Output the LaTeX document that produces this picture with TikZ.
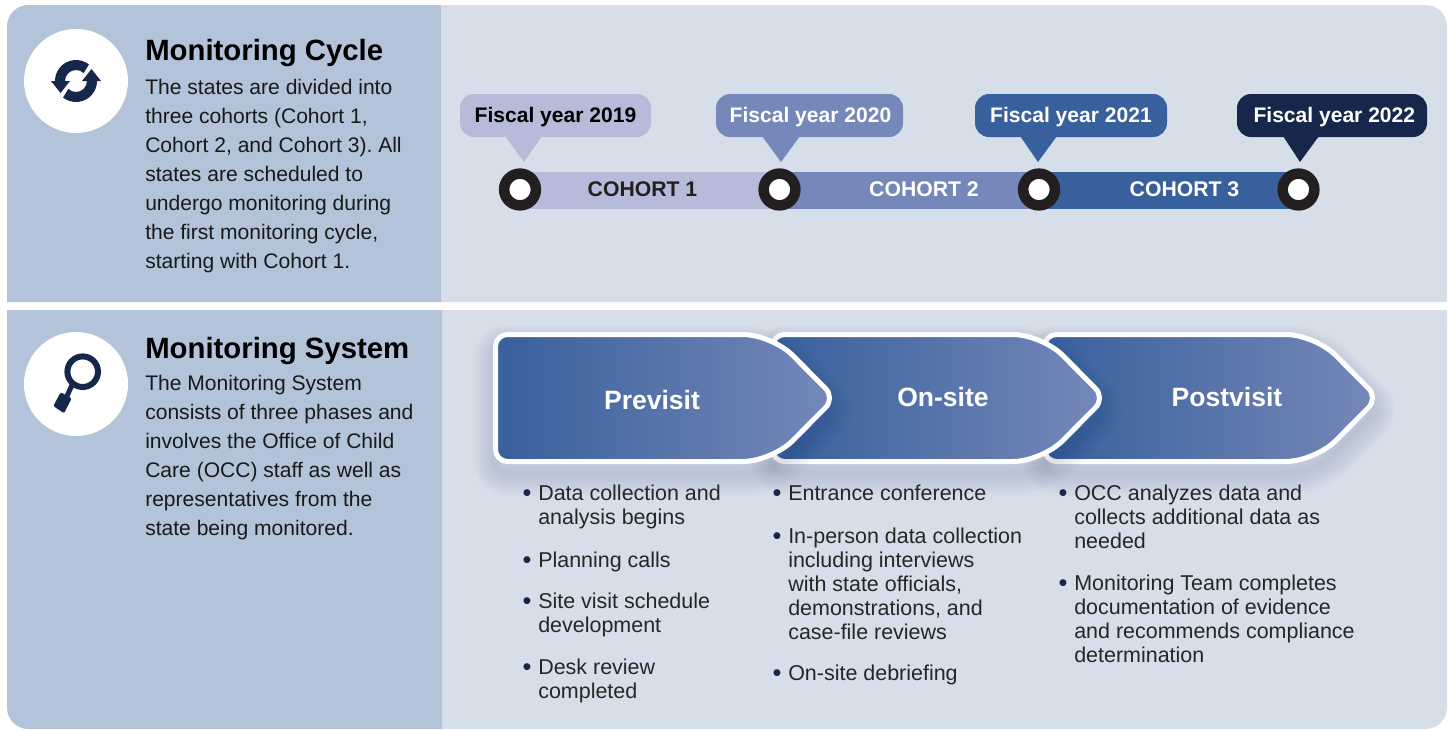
\documentclass[tikz,border=0pt]{standalone}
\usepackage{fontspec}
\setmainfont{Liberation Sans}
\frenchspacing
\definecolor{panelL}{HTML}{B3C3DA}
\definecolor{panelR}{HTML}{D6DEE9}
\definecolor{navy}{HTML}{17274C}
\definecolor{cA}{HTML}{B6BBDA}
\definecolor{cB}{HTML}{7688B9}
\definecolor{cC}{HTML}{38609C}
\definecolor{ringc}{HTML}{231F20}
\newcommand{\chevpath}[2]{% left x, sharp tip x
  (#1,398) [rounded corners=9pt] -- (#1,334.5) [rounded corners=22pt] -- (#2-63,334.5) [rounded corners=10pt] -- (#2,398) [rounded corners=22pt] -- (#2-63,461.5) [rounded corners=9pt] -- (#1,461.5) [sharp corners] -- cycle}
\newcommand{\chevron}[2]{%
  \foreach \w in {44,40,...,4}{
    \begin{scope}[yshift=-9pt]
    \draw[navy,draw opacity=0.011,line width=\w*0.75pt,line join=round] \chevpath{#1}{#2};
    \end{scope}
  }
  \path[chev] \chevpath{#1}{#2};
}
\newcommand{\bul}{\llap{\raisebox{-0.8pt}{\fontsize{19}{18}\selectfont\textcolor{navy}{•}}\hspace{5pt}}}
\tikzset{
  body/.style={anchor=north west,inner sep=0pt,align=left,text=black!90,font=\fontsize{15.8}{21.75}\selectfont},
  item/.style={anchor=north west,inner sep=0pt,align=left,text=black!85,font=\fontsize{16.1}{18}\selectfont},
  head/.style={anchor=base west,inner sep=0pt,font=\fontsize{22}{25}\selectfont\bfseries},
  chev/.style={left color=cC,right color=cB,draw=white,line width=3.75pt,line join=round},
  chevlabel/.style={text=white,inner sep=0pt,font=\fontsize{19.9}{24}\selectfont\bfseries},
  fy/.style={rounded corners=10.5pt,minimum width=#1*0.75pt,minimum height=32.25pt,inner sep=0pt,text height=12pt,text depth=1.4pt,font=\fontsize{15.8}{18}\selectfont\bfseries},
  bar/.style={line width=27.75pt},
  stop/.style={circle,fill=white,draw=ringc,line width=7.9pt,minimum size=23.8pt,inner sep=0pt},
  cohort/.style={inner sep=0pt,font=\fontsize{15.9}{18}\selectfont\bfseries},
  disc/.style={circle,fill=white,minimum size=78pt,inner sep=0pt},
}
\begin{document}
\begin{tikzpicture}[x=0.75pt,y=-0.75pt]
\useasboundingbox (0,0) rectangle (1450,729);
\fill[white] (0,0) rectangle (1450,729);
% panels
\fill[panelL] (441,5) [rounded corners=16pt] -- (7,5) [sharp corners] -- (7,302) -- (441,302) -- cycle;
\fill[panelR] (441,5) [rounded corners=16pt] -- (1447,5) [sharp corners] -- (1447,302) -- (441,302) -- cycle;
\fill[panelL] (442,310) -- (7,310) [rounded corners=16pt] -- (7,729) [sharp corners] -- (442,729) -- cycle;
\fill[panelR] (442,310) -- (1447,310) [rounded corners=16pt] -- (1447,729) [sharp corners] -- (442,729) -- cycle;
% icons
\node[disc] (d1) at (76,81) {};
\node[disc] (d2) at (76,384) {};
% refresh icon
\begin{scope}[shift={(76,81)},yscale=-1]
  \foreach \a in {0,180}{
    \begin{scope}[rotate=\a]
      \fill[navy] (52:21) arc[start angle=52,end angle=180,radius=21] -- (-25,0) -- (-15.5,-12) -- (-6,0) -- (-11,0) arc[start angle=180,end angle=46,radius=11] -- cycle;
    \end{scope}
  }
\end{scope}
% magnifier
\draw[navy,line width=4.5pt] (82.7,371.7) circle[radius=15.3];
\draw[navy,line width=3.75pt] (72.5,384) -- (67,396);
\fill[navy,rounded corners=1pt] (60.7,392.3) -- (71.7,398.3) -- (64,413.3) -- (53.3,406) -- cycle;
% headings and body
\node[head] (h1) at (145,60) {Monitoring Cycle};
\node[body] (b1) at (145,73.7) {\strut The states are divided into\\three cohorts (Cohort 1,\\Cohort 2, and Cohort 3). All\\states are scheduled to\\undergo monitoring during\\the first monitoring cycle,\\starting with Cohort 1.};
\node[head] (h2) at (145,358.5) {Monitoring System};
\node[body] (b2) at (145,369.7) {\strut The Monitoring System\\consists of three phases and\\involves the Office of Child\\Care (OCC) staff as well as\\representatives from the\\state being monitored.};
% timeline
\coordinate (t1) at (520,189.5);
\coordinate (t2) at (779.5,189.5);
\coordinate (t3) at (1039,189.5);
\coordinate (t4) at (1298.5,189.5);
\draw[bar,cA] ([yshift=-0.75pt]t1) -- ([yshift=-0.75pt]t2);
\draw[bar,cB] ([yshift=-0.75pt]t2) -- ([yshift=-0.75pt]t3);
\draw[bar,cC] ([yshift=-0.75pt]t3) -- ([yshift=-0.75pt]t4);
\node[stop] (s1) at (t1) {};
\node[stop] (s2) at (t2) {};
\node[stop] (s3) at (t3) {};
\node[stop] (s4) at (t4) {};
\node[cohort,text=ringc] (c1) at (642.5,189.5) {COHORT 1};
\node[cohort,text=white] (c2) at (924,189.5) {COHORT 2};
\node[cohort,text=white] (c3) at (1184.5,189.5) {COHORT 3};
% callouts
\fill[cA] (505,136) -- (542,136) -- (524,162) -- cycle;
\node[fy=191,fill=cA,text=black] (f1) at (555.5,115.5) {Fiscal year 2019};
\fill[cB] (762,136) -- (800,136) -- (781,162) -- cycle;
\node[fy=187,fill=cB,text=white] (f2) at (809.5,115.5) {\hspace{1.5pt}Fiscal year 2020};
\fill[cC] (1020,136) -- (1057,136) -- (1038,162) -- cycle;
\node[fy=192,fill=cC,text=white] (f3) at (1071,115.5) {Fiscal year 2021};
\fill[navy] (1283,136) -- (1319,136) -- (1300,162) -- cycle;
\node[fy=190,fill=navy,text=white] (f4) at (1332,115.5) {\hspace{3.5pt}Fiscal year 2022};
% chevrons
\chevron{1044.5}{1378}
\chevron{772.5}{1105}
\chevron{495.5}{835}
\node[chevlabel] (p1) at (652,400) {Previsit};
\node[chevlabel] (p2) at (943,397) {On-site};
\node[chevlabel] (p3) at (1227,397) {Postvisit};
% lists
\node[item] (l1) at (538,483) {\bul\strut Data collection and\\analysis begins};
\node[item] (l2) at (538,550) {\bul\strut Planning calls};
\node[item] (l3) at (538,591) {\bul\strut Site visit schedule\\development};
\node[item] (l4) at (538,657) {\bul\strut Desk review\\completed};
\node[item] (l5) at (788,483) {\bul\strut Entrance conference};
\node[item] (l6) at (788,526) {\bul\strut In-person data collection\\including interviews\\with state officials,\\demonstrations, and\\case-file reviews};
\node[item] (l7) at (788,663) {\bul\strut On-site debriefing};
\node[item] (l8) at (1074,483) {\bul\strut OCC analyzes data and\\collects additional data as\\needed};
\node[item] (l9) at (1074,573) {\bul\strut Monitoring Team completes\\documentation of evidence\\and recommends compliance\\determination};
\end{tikzpicture}
\end{document}
